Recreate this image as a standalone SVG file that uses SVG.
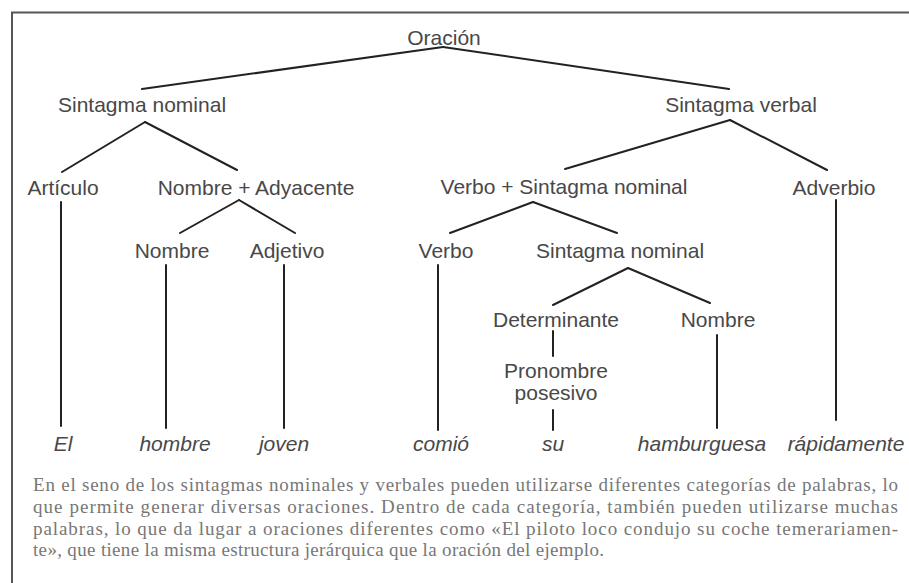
<svg xmlns="http://www.w3.org/2000/svg" width="909" height="583" viewBox="0 0 909 583">
<style>
.lbl{font-family:"Liberation Sans",Arial,sans-serif;font-size:21px;fill:#484848;text-anchor:middle}
.leaf{font-family:"Liberation Sans",Arial,sans-serif;font-size:21px;font-style:italic;fill:#484848;text-anchor:middle}
.edge{stroke:#222;stroke-width:2;fill:none;stroke-linecap:round}
.cap{font-family:"Liberation Serif","Times New Roman",serif;font-size:19px;fill:#777}
</style>
<rect width="909" height="583" fill="#fff"/>
<path d="M12,583 V12.5 H909" fill="none" stroke="#555" stroke-width="2"/>
<g id="connectors">
<line class="edge" x1="443" y1="47" x2="142" y2="89"/>
<line class="edge" x1="443" y1="47" x2="729" y2="89"/>
<line class="edge" x1="145" y1="122" x2="62" y2="172"/>
<line class="edge" x1="145" y1="122" x2="237" y2="170"/>
<line class="edge" x1="730" y1="120" x2="565" y2="169"/>
<line class="edge" x1="730" y1="120" x2="827" y2="170"/>
<line class="edge" x1="61" y1="202" x2="61" y2="426"/>
<line class="edge" x1="239" y1="200" x2="180" y2="233"/>
<line class="edge" x1="239" y1="200" x2="295" y2="233"/>
<line class="edge" x1="166" y1="265" x2="166" y2="428"/>
<line class="edge" x1="284" y1="265" x2="284" y2="428"/>
<line class="edge" x1="533" y1="202" x2="450" y2="233"/>
<line class="edge" x1="533" y1="202" x2="617" y2="233"/>
<line class="edge" x1="836" y1="200" x2="836" y2="420"/>
<line class="edge" x1="438" y1="265" x2="438" y2="430"/>
<line class="edge" x1="628" y1="268" x2="553" y2="305"/>
<line class="edge" x1="628" y1="268" x2="710" y2="303"/>
<line class="edge" x1="553" y1="331" x2="553" y2="356"/>
<line class="edge" x1="717" y1="335" x2="717" y2="428"/>
<line class="edge" x1="553" y1="410" x2="553" y2="430"/>
</g>
<g id="n-oracion"><text class="lbl" x="444" y="45">Oración</text></g>
<g id="n-sn"><text class="lbl" x="142" y="112">Sintagma nominal</text></g>
<g id="n-sv"><text class="lbl" x="741" y="112">Sintagma verbal</text></g>
<g id="n-articulo"><text class="lbl" x="63" y="195">Artículo</text></g>
<g id="n-nombre-ady"><text class="lbl" x="256" y="195">Nombre + Adyacente</text></g>
<g id="n-verbo-sn"><text class="lbl" x="564" y="194">Verbo + Sintagma nominal</text></g>
<g id="n-adverbio"><text class="lbl" x="834" y="195">Adverbio</text></g>
<g id="n-nombre1"><text class="lbl" x="172" y="258">Nombre</text></g>
<g id="n-adjetivo"><text class="lbl" x="287" y="258">Adjetivo</text></g>
<g id="n-verbo"><text class="lbl" x="446" y="258">Verbo</text></g>
<g id="n-sn2"><text class="lbl" x="620" y="258">Sintagma nominal</text></g>
<g id="n-determinante"><text class="lbl" x="556" y="327">Determinante</text></g>
<g id="n-nombre2"><text class="lbl" x="718" y="327">Nombre</text></g>
<g id="n-pronombre"><text class="lbl" x="556" y="378">Pronombre</text><text class="lbl" x="556" y="400">posesivo</text></g>
<g id="n-el"><text class="leaf" x="63" y="451">El</text></g>
<g id="n-hombre"><text class="leaf" x="175" y="451">hombre</text></g>
<g id="n-joven"><text class="leaf" x="284" y="451">joven</text></g>
<g id="n-comio"><text class="leaf" x="441" y="451">comió</text></g>
<g id="n-su"><text class="leaf" x="553" y="451">su</text></g>
<g id="n-hamburguesa"><text class="leaf" x="702" y="451">hamburguesa</text></g>
<g id="n-rapidamente"><text class="leaf" x="846" y="451">rápidamente</text></g>
<g id="caption">
<text class="cap" x="33" y="491" textLength="865" lengthAdjust="spacing">En el seno de los sintagmas nominales y verbales pueden utilizarse diferentes categorías de palabras, lo</text>
<text class="cap" x="33" y="513" textLength="865" lengthAdjust="spacing">que permite generar diversas oraciones. Dentro de cada categoría, también pueden utilizarse muchas</text>
<text class="cap" x="33" y="535" textLength="865" lengthAdjust="spacing">palabras, lo que da lugar a oraciones diferentes como «El piloto loco condujo su coche temerariamen-</text>
<text class="cap" x="33" y="556" textLength="571" lengthAdjust="spacing">te», que tiene la misma estructura jerárquica que la oración del ejemplo.</text>
</g>
</svg>
